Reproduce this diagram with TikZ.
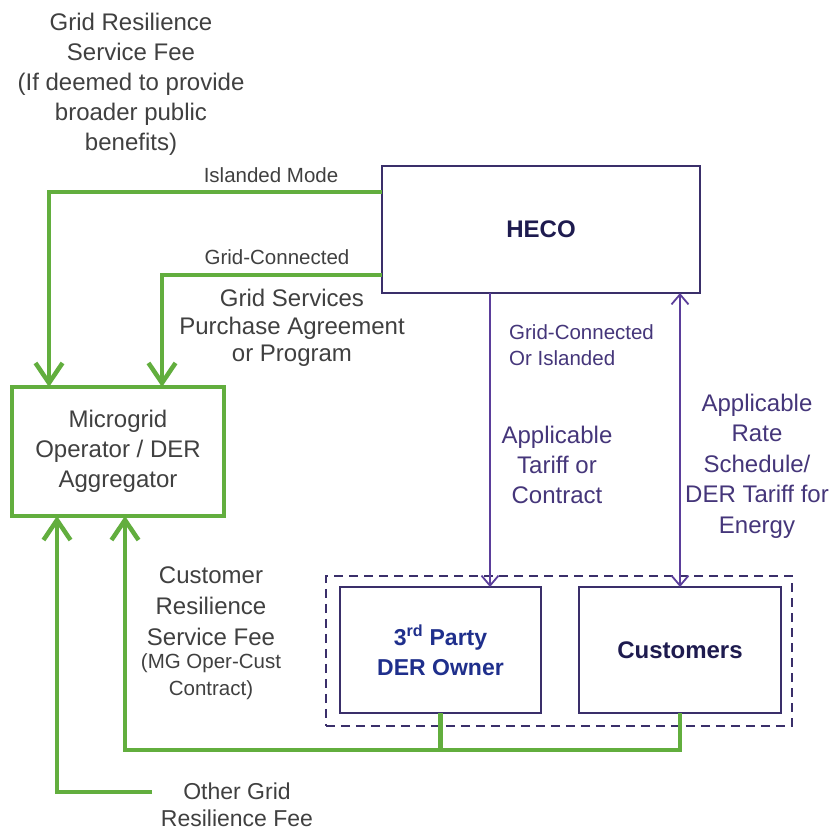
\documentclass[tikz,border=0pt]{standalone}
\usepackage{fontspec}
\setmainfont{Liberation Sans}
\usetikzlibrary{arrows.meta,calc}
\definecolor{gr}{HTML}{62AE3E}
\definecolor{pu}{HTML}{5B3E9B}
\definecolor{navy}{HTML}{1E1B4F}
\definecolor{bl}{HTML}{1F2F8C}
\definecolor{gt}{HTML}{404040}
\definecolor{ptext}{HTML}{45367A}
\definecolor{hb}{HTML}{3A2F6A}
\begin{document}
\begin{tikzpicture}[x=1pt,y=-1pt,
  big/.style={font=\fontsize{24}{30}\selectfont, align=center, inner sep=0pt},
  small/.style={font=\fontsize{20.5}{26}\selectfont, align=center, inner sep=0pt},
  gline/.style={draw=gr, line width=4.5pt},
  garrow/.style={gline, -{Straight Barb[length=20pt,width=27pt]}},
  pline/.style={draw=pu, line width=1.8pt},
  parrow/.style={pline, -{Straight Barb[length=10pt,width=17pt]}},
  pdarrow/.style={pline, {Straight Barb[length=10pt,width=17pt]}-{Straight Barb[length=10pt,width=17pt]}},
  whitebox/.style={draw=hb, line width=1.8pt, inner sep=0pt, outer sep=0pt, anchor=north west, align=center}
]
\useasboundingbox[fill=white] (0,0) rectangle (837,835);

% boxes
\node[whitebox, minimum width=318pt, minimum height=127pt,
      font=\bfseries\fontsize{24}{30}\selectfont, text=navy] (heco) at (382,166) {HECO};
\node[draw=gr, line width=4.5pt, inner sep=0pt, outer sep=0pt, anchor=north west,
      minimum width=212pt, minimum height=129pt, align=center,
      font=\fontsize{24}{30}\selectfont, text=gt] (mg) at (12,387) {Microgrid\\Operator / DER\\Aggregator};
\node[draw=hb, line width=1.6pt, dash pattern=on 9pt off 6pt, inner sep=0pt, anchor=north west,
      minimum width=466pt, minimum height=150pt] (grp) at (325,575) {};
\node[whitebox, minimum width=201pt, minimum height=126pt,
      font=\bfseries\fontsize{23}{30}\selectfont, text=bl] (tp) at (340,587) {3\textsuperscript{rd} Party\\DER Owner};
\node[whitebox, minimum width=202pt, minimum height=126pt,
      font=\bfseries\fontsize{24}{30}\selectfont, text=navy] (cust) at (579,587) {Customers};

% helper coordinates
\coordinate (yi) at (0,192);
\coordinate (yg) at (0,275);
\coordinate (a1) at (49,0);
\coordinate (a2) at (162,0);
\coordinate (u1) at (57,0);
\coordinate (u2) at (125,0);
\coordinate (jb) at (0,750);
\coordinate (og) at (152,792);
\coordinate (pa) at (490,0);

% green connectors
\draw[garrow] (heco.west |- yi) -| (mg.north -| a1);
\draw[garrow] (heco.west |- yg) -| (mg.north -| a2);
\draw[garrow] (og) -| (mg.south -| u1);
\draw[gline] (tp.south) -- (tp.south |- jb);
\draw[garrow] (cust.south) -- (cust.south |- jb) -| (mg.south -| u2);

% purple connectors
\draw[parrow] (heco.south -| pa) -- (tp.north -| pa);
\draw[pdarrow] (heco.south -| cust.north) -- (cust.north);

% labels
\node[big, text=gt] (grf) at (131,84) {Grid Resilience\\Service Fee\\(If deemed to provide\\broader public\\benefits)};
\node[small, text=gt] (isl) at (271,175) {Islanded Mode};
\node[small, text=gt] (gcl) at (277,257) {Grid-Connected};
\node[big, font=\fontsize{24}{27.5}\selectfont, text=gt] (gspa) at (292,328) {Grid Services\\Purchase Agreement\\or Program};
\node[small, text=ptext, anchor=west, align=left] (goi) at (509,345) {Grid-Connected\\Or Islanded};
\node[big, text=ptext] (att) at (557,465) {Applicable\\Tariff or\\Contract};
\node[big, font=\fontsize{24}{30.5}\selectfont, text=ptext] (ars) at (757,466) {Applicable\\Rate\\Schedule/\\DER Tariff for\\Energy};
\node[big, font=\fontsize{24}{31}\selectfont, text=gt] (crs) at (211,606) {Customer\\Resilience\\Service Fee};
\node[small, font=\fontsize{20.5}{27}\selectfont, text=gt] (mgc) at (211,677) {(MG Oper-Cust\\Contract)};
\node[big, font=\fontsize{23}{27}\selectfont, text=gt, anchor=south] (ogr) at (237,827) {Other Grid\\Resilience Fee};
\end{tikzpicture}
\end{document}
